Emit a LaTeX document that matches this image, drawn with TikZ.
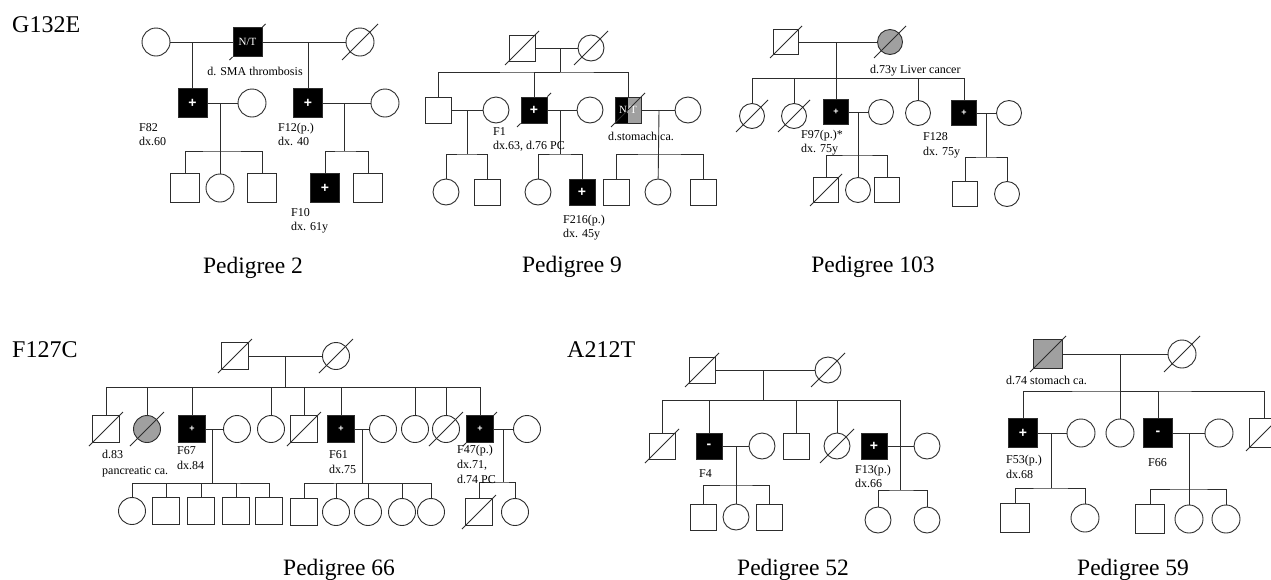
\documentclass[tikz,border=0pt]{standalone}
\usepackage{fontspec}
\setmainfont{Liberation Serif}
\newfontfamily\plusfont{Liberation Sans}
\usetikzlibrary{calc}
\definecolor{pgray}{RGB}{160,160,160}
\definecolor{lncol}{RGB}{45,45,45}
\tikzset{
 ln/.style={line width=0.9pt, draw=lncol},
 sq/.style={rectangle, draw=lncol, line width=0.9pt, minimum size=#1, inner sep=0pt, fill=white},
 sq/.default=28pt,
 ci/.style={circle, draw=lncol, line width=0.9pt, minimum size=#1, inner sep=0pt, fill=white},
 ci/.default=28pt,
 aff/.style={fill=black, text=white, font=\plusfont\bfseries\fontsize{14}{14}\selectfont},
 affs/.style={fill=black, text=white, font=\plusfont\bfseries\fontsize{9}{9}\selectfont},
 ntxt/.style={font=\fontsize{11}{11}\selectfont},
 grayf/.style={fill=pgray},
 halfbg/.style={fill=black, path picture={\fill[pgray] (path picture bounding box.north) rectangle (path picture bounding box.south east);}},
 dead/.style={append after command={($(\tikzlastnode.center)+(-#1,-#1)$) edge[ln] ($(\tikzlastnode.center)+(#1,#1)$)}},
 dead/.default=18pt,
 deadx/.style={append after command={($(\tikzlastnode.center)+(-#1,-#1)$) edge[ln] (\tikzlastnode.south west) (\tikzlastnode.north east) edge[ln] ($(\tikzlastnode.center)+(#1,#1)$)}},
 deadx/.default=18pt,
 lab/.style={font=\fontsize{12}{14}\selectfont, inner sep=0pt, anchor=base west},
 labc/.style={font=\fontsize{12}{14}\selectfont, inner sep=0pt, anchor=base},
 big/.style={font=\fontsize{24}{28}\selectfont, inner sep=0pt, anchor=base west},
 ttl/.style={font=\fontsize{23.5}{28}\selectfont, inner sep=0pt, anchor=base},
}
\begin{document}
\begin{tikzpicture}[x=1pt,y=-1pt]
\useasboundingbox (0,0) rectangle (1271,579);
\fill[white] (0,0) rectangle (1271,579);
\clip (0,0) rectangle (1271,579);

% ================= Pedigree 2 =================
\node[big] (g132) at (12,32) {G132E};
\begin{scope}[sq/.default=29pt, ci/.default=28pt]
\node[ci] (p2a) at (156,42) {};
\node[sq, aff, ntxt, deadx] (p2b) at (247.5,42) {N/T};
\node[ci, dead] (p2c) at (360,42) {};
\node[sq, aff] (p2d) at (192.5,103) {+};
\node[ci] (p2e) at (252,103) {};
\node[sq, aff] (p2f) at (308,103) {+};
\node[ci] (p2g) at (385,103) {};
\node[sq] (p2h) at (185,188) {};
\node[ci] (p2i) at (220,188) {};
\node[sq] (p2j) at (262,188) {};
\node[sq, aff] (p2k) at (325,188) {+};
\node[sq] (p2l) at (368,188) {};
\end{scope}
\coordinate (m2a) at (192.5,42);
\coordinate (m2b) at (308,42);
\coordinate (m2c) at (220,103);
\coordinate (s2a) at (220,151);
\coordinate (m2d) at (344,103);
\coordinate (s2b) at (344,151);
\draw[ln] (p2a) -- (p2b);
\draw[ln] (p2b) -- (p2c);
\draw[ln] (m2a) -- (p2d);
\draw[ln] (m2b) -- (p2f);
\draw[ln] (p2d) -- (p2e);
\draw[ln] (p2f) -- (p2g);
\draw[ln] (m2c) -- (p2i);
\draw[ln] (p2h) |- (s2a) -| (p2j);
\draw[ln] (m2d) -- (s2b);
\draw[ln] (p2k) |- (s2b) -| (p2l);
\node[labc] (t2a) at (255,75) {d. SMA thrombosis};
\node[lab] (t2b) at (139,131) {F82};
\node[lab] (t2c) at (139,145) {dx.60};
\node[lab] (t2d) at (278,131) {F12(p.)};
\node[lab] (t2e) at (278,145) {dx. 40};
\node[lab] (t2f) at (291,216) {F10};
\node[lab] (t2g) at (291,230) {dx. 61y};
\node[ttl] (t2h) at (253,273) {Pedigree 2};

% ================= Pedigree 9 =================
\begin{scope}[sq/.default=26pt, ci/.default=26pt, dead/.default=17pt, deadx/.default=17pt]
\node[sq, dead] (p9a) at (522,48) {};
\node[ci, dead] (p9b) at (591,48) {};
\node[sq] (p9c) at (438,110) {};
\node[ci] (p9d) at (496,110) {};
\node[sq, aff, deadx] (p9e) at (534,110) {+};
\node[ci] (p9f) at (590,110) {};
\node[sq, halfbg, text=white, ntxt, dead] (p9g) at (628,110) {N/T};
\node[ci] (p9h) at (688,110) {};
\node[ci] (p9i) at (446,192) {};
\node[sq] (p9j) at (487,192) {};
\node[ci] (p9k) at (538,192) {};
\node[sq, aff] (p9l) at (582,192) {+};
\node[sq] (p9m) at (616,192) {};
\node[ci] (p9n) at (658,192) {};
\node[sq] (p9o) at (703,192) {};
\end{scope}
\coordinate (m9a) at (560,48);
\coordinate (s9a) at (560,72);
\coordinate (m9b) at (467,110);
\coordinate (s9b) at (467,154);
\coordinate (m9c) at (560,110);
\coordinate (s9c) at (560,154);
\coordinate (m9d) at (659,110);
\coordinate (s9d) at (659,154);
\draw[ln] (p9a) -- (p9b);
\draw[ln] (m9a) -- (s9a);
\draw[ln] (p9c) |- (s9a) -| (p9g);
\draw[ln] (p9e) |- (s9a);
\draw[ln] (p9c) -- (p9d);
\draw[ln] (p9e) -- (p9f);
\draw[ln] (p9g) -- (p9h);
\draw[ln] (m9b) -- (s9b);
\draw[ln] (p9i) |- (s9b) -| (p9j);
\draw[ln] (m9c) -- (s9c);
\draw[ln] (p9k) |- (s9c) -| (p9l);
\draw[ln] (m9d) -- (p9n);
\draw[ln] (p9m) |- (s9d) -| (p9o);
\node[lab] (t9a) at (493,135) {F1};
\node[lab] (t9b) at (493,149) {dx.63, d.76 PC};
\node[lab] (t9c) at (608,140) {d.stomach ca.};
\node[lab] (t9d) at (563,223) {F216(p.)};
\node[lab] (t9e) at (563,237) {dx. 45y};
\node[ttl] (t9f) at (572,272) {Pedigree 9};

% ================= Pedigree 103 =================
\begin{scope}[sq/.default=25pt, ci/.default=25pt, dead/.default=16pt]
\node[sq, dead] (p3a) at (786,42) {};
\node[ci, grayf, dead] (p3b) at (890,42) {};
\node[ci, dead] (p3c) at (752,116) {};
\node[ci, dead] (p3d) at (794,116) {};
\node[sq, affs] (p3e) at (836,112) {+};
\node[ci] (p3f) at (881,112) {};
\node[ci] (p3g) at (918,113) {};
\node[sq, affs] (p3h) at (964,113) {+};
\node[ci] (p3i) at (1009,113) {};
\node[sq, dead] (p3j) at (826,190) {};
\node[ci] (p3k) at (858,190) {};
\node[sq] (p3l) at (887,190) {};
\node[sq] (p3m) at (965,194) {};
\node[ci] (p3n) at (1007,194) {};
\end{scope}
\coordinate (m3a) at (836,42);
\coordinate (s3a) at (836,78);
\coordinate (m3b) at (858,112);
\coordinate (s3b) at (858,155);
\coordinate (m3c) at (986,113);
\coordinate (s3c) at (986,157);
\draw[ln] (p3a) -- (p3b);
\draw[ln] (m3a) -- (p3e);
\draw[ln] (p3c) |- (s3a) -| (p3h);
\draw[ln] (p3d) |- (s3a);
\draw[ln] (p3g) |- (s3a);
\draw[ln] (p3e) -- (p3f);
\draw[ln] (p3h) -- (p3i);
\draw[ln] (m3b) -- (p3k);
\draw[ln] (p3j) |- (s3b) -| (p3l);
\draw[ln] (m3c) -- (s3c);
\draw[ln] (p3m) |- (s3c) -| (p3n);
\node[lab] (t3a) at (870,73) {d.73y Liver cancer};
\node[lab] (t3b) at (801,138) {F97(p.)*};
\node[lab] (t3c) at (801,152) {dx. 75y};
\node[lab] (t3d) at (923,140) {F128};
\node[lab] (t3e) at (923,155) {dx. 75y};
\node[ttl] (t3f) at (873,272) {Pedigree 103};

% ================= Pedigree 66 =================
\node[big] (f127) at (12,357) {F127C};
\begin{scope}[sq/.default=27pt, ci/.default=27pt, dead/.default=17pt, deadx/.default=17pt]
\node[sq, dead] (p6a) at (235,356) {};
\node[ci, dead] (p6b) at (336,356) {};
\node[sq, dead] (p6c) at (106,429) {};
\node[ci, grayf, dead] (p6d) at (147,429) {};
\node[sq, affs] (p6e) at (192,429) {+};
\node[ci] (p6f) at (237,429) {};
\node[ci] (p6g) at (271,429) {};
\node[sq, dead] (p6h) at (304,429) {};
\node[sq, affs] (p6i) at (341,429) {+};
\node[ci] (p6j) at (383,429) {};
\node[ci] (p6k) at (415,429) {};
\node[ci, dead] (p6l) at (446,429) {};
\node[sq, affs, deadx] (p6m) at (480,429) {+};
\node[ci] (p6n) at (527,429) {};
\node[ci] (p6o) at (132,511) {};
\node[sq] (p6p) at (166,511) {};
\node[sq] (p6q) at (201,511) {};
\node[sq] (p6r) at (236,511) {};
\node[sq] (p6s) at (269,511) {};
\node[sq] (p6t) at (304,512) {};
\node[ci] (p6u) at (336,512) {};
\node[ci] (p6v) at (368,512) {};
\node[ci] (p6w) at (402,512) {};
\node[ci] (p6x) at (431,512) {};
\node[sq, dead] (p6y) at (479,512) {};
\node[ci] (p6z) at (515,512) {};
\end{scope}
\coordinate (m6a) at (285,356);
\coordinate (s6a) at (285,387);
\coordinate (m6b) at (212,429);
\coordinate (s6b) at (212,483);
\coordinate (m6c) at (362,429);
\coordinate (s6c) at (362,483);
\coordinate (m6d) at (503,429);
\coordinate (s6d) at (503,482);
\draw[ln] (p6a) -- (p6b);
\draw[ln] (m6a) -- (s6a);
\draw[ln] (p6c) |- (s6a) -| (p6m);
\foreach \n in {p6d,p6e,p6g,p6h,p6i,p6k,p6l} {\draw[ln] (\n) |- (s6a);}
\draw[ln] (p6e) -- (p6f);
\draw[ln] (p6i) -- (p6j);
\draw[ln] (p6m) -- (p6n);
\draw[ln] (m6b) -- (s6b);
\draw[ln] (p6o) |- (s6b) -| (p6s);
\foreach \n in {p6p,p6q,p6r} {\draw[ln] (\n) |- (s6b);}
\draw[ln] (m6c) -- (s6c);
\draw[ln] (p6t) |- (s6c) -| (p6x);
\foreach \n in {p6u,p6v,p6w} {\draw[ln] (\n) |- (s6c);}
\draw[ln] (m6d) -- (s6d);
\draw[ln] (p6y) |- (s6d) -| (p6z);
\node[lab] (t6a) at (102,458) {d.83};
\node[lab] (t6b) at (102,474) {pancreatic ca.};
\node[lab] (t6c) at (177,454) {F67};
\node[lab] (t6d) at (177,469) {dx.84};
\node[lab] (t6e) at (329,458) {F61};
\node[lab] (t6f) at (329,473) {dx.75};
\node[lab] (t6g) at (457,453) {F47(p.)};
\node[lab] (t6h) at (457,468) {dx.71,};
\node[lab] (t6i) at (457,483) {d.74 PC};
\node[ttl] (t6j) at (339,575) {Pedigree 66};

% ================= Pedigree 52 =================
\node[big] (a212) at (567,357) {A212T};
\begin{scope}[sq/.default=26pt, ci/.default=26pt, dead/.default=17pt]
\node[sq, dead] (p5a) at (702,370) {};
\node[ci, dead] (p5b) at (828,370) {};
\node[sq, dead] (p5c) at (662,446) {};
\node[sq, aff] (p5d) at (709,446) {-};
\node[ci] (p5e) at (762,446) {};
\node[sq] (p5f) at (796,446) {};
\node[ci, dead] (p5g) at (837,446) {};
\node[sq, aff] (p5h) at (874,446) {+};
\node[ci] (p5i) at (927,446) {};
\node[sq] (p5j) at (703,517) {};
\node[ci] (p5k) at (736,517) {};
\node[sq] (p5l) at (769,517) {};
\node[ci] (p5m) at (878,520) {};
\node[ci] (p5n) at (927,520) {};
\end{scope}
\coordinate (m5a) at (763,370);
\coordinate (s5a) at (763,400);
\coordinate (c5a) at (900,400);
\coordinate (c5b) at (900,490);
\coordinate (m5b) at (736,446);
\coordinate (s5b) at (736,485);
\draw[ln] (p5a) -- (p5b);
\draw[ln] (m5a) -- (s5a);
\draw[ln] (p5c) |- (c5a) -- (c5b);
\foreach \n in {p5d,p5f,p5g} {\draw[ln] (\n) |- (s5a);}
\draw[ln] (p5d) -- (p5e);
\draw[ln] (p5h) -- (p5i);
\draw[ln] (m5b) -- (p5k);
\draw[ln] (p5j) |- (s5b) -| (p5l);
\draw[ln] (p5m) |- (c5b) -| (p5n);
\node[lab] (t5a) at (699,477) {F4};
\node[lab] (t5b) at (855,473) {F13(p.)};
\node[lab] (t5c) at (855,487) {dx.66};
\node[ttl] (t5d) at (793,575) {Pedigree 52};

% ================= Pedigree 59 =================
\begin{scope}[sq/.default=29pt, ci/.default=28pt, dead/.default=18pt]
\node[sq, grayf, dead] (q1) at (1048,354) {};
\node[ci, dead] (q2) at (1182,354) {};
\node[sq, aff] (q3) at (1023,433) {+};
\node[ci] (q4) at (1081,433) {};
\node[ci] (q5) at (1120,433) {};
\node[sq, aff] (q6) at (1158,433) {-};
\node[ci] (q7) at (1219,433) {};
\node[sq, dead] (q8) at (1264,433) {};
\node[sq] (q9) at (1015,518) {};
\node[ci] (q10) at (1085,518) {};
\node[sq] (q11) at (1150,519) {};
\node[ci] (q12) at (1189,519) {};
\node[ci] (q13) at (1226,519) {};
\end{scope}
\coordinate (m7a) at (1120,354);
\coordinate (s7a) at (1120,391);
\coordinate (m7b) at (1051,433);
\coordinate (s7b) at (1051,488);
\coordinate (m7c) at (1189,433);
\coordinate (s7c) at (1189,489);
\draw[ln] (q1) -- (q2);
\draw[ln] (m7a) -- (q5);
\draw[ln] (q3) |- (s7a) -| (q8);
\draw[ln] (q6) |- (s7a);
\draw[ln] (q3) -- (q4);
\draw[ln] (q6) -- (q7);
\draw[ln] (m7b) -- (s7b);
\draw[ln] (q9) |- (s7b) -| (q10);
\draw[ln] (m7c) -- (q12);
\draw[ln] (q11) |- (s7c) -| (q13);
\node[lab] (t7a) at (1006,384) {d.74 stomach ca.};
\node[lab] (t7b) at (1006,463) {F53(p.)};
\node[lab] (t7c) at (1006,478) {dx.68};
\node[lab] (t7d) at (1148,466) {F66};
\node[ttl] (t7e) at (1133,575) {Pedigree 59};
\end{tikzpicture}
\end{document}
